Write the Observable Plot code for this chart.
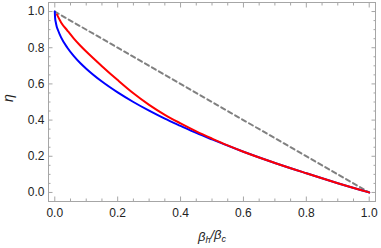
<!DOCTYPE html>
<html><head><meta charset="utf-8">
<script src="https://cdn.jsdelivr.net/npm/d3@7"></script>
<script src="https://cdn.jsdelivr.net/npm/@observablehq/plot@0.6"></script>
<style>body{margin:0;background:#fff;} svg{display:block;}</style>
</head><body><div id="chart"></div>
<script>
// Blue curve
const blueX = [0, 0.001, 0.003, 0.006, 0.01, 0.02, 0.04, 0.06, 0.08, 0.1, 0.15, 0.2, 0.25, 0.3, 0.35, 0.4, 0.45, 0.5, 0.6, 0.7, 0.8, 0.9, 1.0];
const blueY = [1.0, 0.965, 0.942, 0.918, 0.898, 0.857, 0.800, 0.755, 0.717, 0.684, 0.613, 0.553, 0.500, 0.452, 0.408, 0.368, 0.329, 0.293, 0.225, 0.163, 0.106, 0.051, 0.0];
// Red curve
const redX = [0.007, 0.02, 0.04, 0.06, 0.08, 0.1, 0.15, 0.2, 0.25, 0.3, 0.35, 0.4, 0.45, 0.5, 0.55, 0.6, 0.7, 0.8, 0.9, 1.0];
const redY = [0.983, 0.94, 0.895, 0.852, 0.814, 0.779, 0.698, 0.621, 0.548, 0.484, 0.429, 0.382, 0.338, 0.298, 0.260, 0.225, 0.163, 0.106, 0.051, 0.0];
// Dashed gray line
const dashX = [0, 1];
const dashY = [1, 0];
// Ticks
const majorTicks = [0, 0.2, 0.4, 0.6, 0.8, 1.0];
const minorTicks = [0.05, 0.1, 0.15, 0.25, 0.3, 0.35, 0.45, 0.5, 0.55, 0.65, 0.7, 0.75, 0.85, 0.9, 0.95];
const xLabel = "βh/βc";
const yLabel = "η";

const blue = blueX.map((x, i) => ({x, y: blueY[i]}));
const red = redX.map((x, i) => ({x, y: redY[i]}));
const dash = dashX.map((x, i) => ({x, y: dashY[i]}));

const frameColor = "#a6a6a6";
const fmt = d3.format(".1f");

const tickAxes = [];
for (const [fn, anchors] of [[Plot.axisX, ["bottom", "top"]], [Plot.axisY, ["left", "right"]]]) {
  for (const anchor of anchors) {
    tickAxes.push(fn(majorTicks, {anchor, tickSize: -4.5, text: null, stroke: frameColor, label: null}));
    tickAxes.push(fn(minorTicks, {anchor, tickSize: -2.5, text: null, stroke: frameColor, label: null}));
  }
}

const chart = Plot.plot({
  width: 381,
  height: 248,
  marginLeft: 48,
  marginRight: 6,
  marginTop: 2,
  marginBottom: 47,
  style: {fontFamily: "'Liberation Sans', Arial, sans-serif", fontSize: "12px", color: "#222", background: "#fff"},
  x: {domain: [-0.02, 1.02]},
  y: {domain: [-0.05, 1.05]},
  marks: [
    Plot.line(dash, {x: "x", y: "y", stroke: "#808080", strokeWidth: 2, strokeDasharray: "4.5,3.5"}),
    Plot.line(blue, {x: "x", y: "y", stroke: "#0000ff", strokeWidth: 2, curve: "monotone-x"}),
    Plot.line(red, {x: "x", y: "y", stroke: "#ff0000", strokeWidth: 2, curve: "monotone-x"}),
    Plot.frame({stroke: frameColor}),
    ...tickAxes,
    Plot.axisX(majorTicks, {anchor: "bottom", tickSize: 0, tickPadding: 7, tickFormat: fmt, label: null, fill: "#222"}),
    Plot.axisY(majorTicks, {anchor: "left", tickSize: 0, tickPadding: 4, tickFormat: fmt, label: null, fill: "#222"}),
    Plot.text([xLabel], {frameAnchor: "bottom", dy: 39, text: d => d, fontSize: 13, fontStyle: "italic", fill: "#222"}),
    Plot.text([yLabel], {frameAnchor: "left", dx: -40, rotate: -90, text: d => d, fontSize: 14, fontStyle: "italic", fill: "#222"})
  ]
});
document.getElementById("chart").appendChild(chart);

// add subscripts to x label
d3.select(chart).selectAll("text").filter(function() { return this.textContent === xLabel; }).each(function() {
  const t = d3.select(this);
  t.text(null);
  t.append("tspan").text("β");
  t.append("tspan").attr("dy", "0.3em").attr("font-size", "9").text("h");
  t.append("tspan").attr("dy", "-0.3em").text("/β");
  t.append("tspan").attr("dy", "0.3em").attr("font-size", "9").text("c");
});
</script>
</body></html>
